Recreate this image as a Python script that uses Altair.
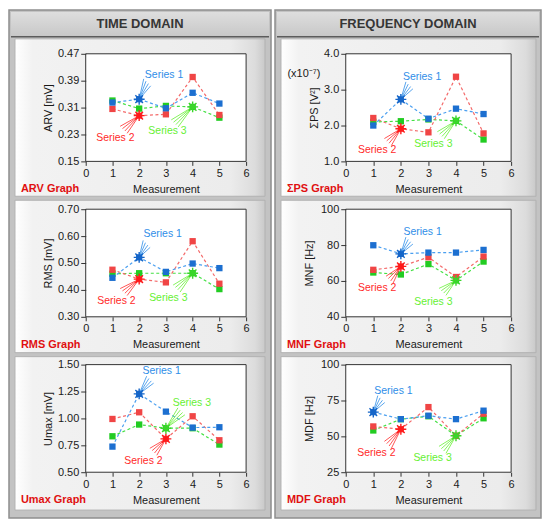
import altair as alt
import pandas as pd

# ---------------- data ----------------
MEASUREMENTS = [1, 2, 3, 4, 5]
SERIES = ["Series 1", "Series 2", "Series 3"]

ARV_S1 = [0.325, 0.335, 0.308, 0.354, 0.322]
ARV_S2 = [0.306, 0.286, 0.290, 0.401, 0.288]
ARV_S3 = [0.331, 0.307, 0.315, 0.312, 0.280]

SPS_S1 = [2.00, 2.73, 2.19, 2.47, 2.32]
SPS_S2 = [2.21, 1.91, 1.81, 3.36, 1.78]
SPS_S3 = [2.10, 2.12, 2.17, 2.13, 1.61]

RMS_S1 = [0.445, 0.521, 0.467, 0.498, 0.481]
RMS_S2 = [0.475, 0.440, 0.428, 0.581, 0.423]
RMS_S3 = [0.460, 0.462, 0.462, 0.462, 0.403]

MNF_S1 = [79.9, 75.1, 75.8, 75.8, 77.3]
MNF_S2 = [66.2, 68.1, 73.2, 62.2, 73.6]
MNF_S3 = [64.7, 63.6, 69.4, 60.3, 70.8]

UMAX_S1 = [0.738, 1.228, 1.063, 0.915, 0.918]
UMAX_S2 = [0.995, 1.057, 0.810, 1.020, 0.797]
UMAX_S3 = [0.834, 0.943, 0.909, 0.909, 0.757]

MDF_S1 = [66.9, 62.0, 64.4, 62.0, 67.9]
MDF_S2 = [56.9, 55.0, 70.4, 50.4, 65.8]
MDF_S3 = [54.1, 62.0, 64.0, 50.4, 62.6]

X_TICKS = [0, 1, 2, 3, 4, 5, 6]
ARV_TICKS = [0.15, 0.23, 0.31, 0.39, 0.47]
SPS_TICKS = [1.0, 2.0, 3.0, 4.0]
RMS_TICKS = [0.30, 0.40, 0.50, 0.60, 0.70]
MNF_TICKS = [40, 60, 80, 100]
UMAX_TICKS = [0.50, 0.75, 1.00, 1.25, 1.50]
MDF_TICKS = [25, 50, 75, 100]

# cursor measurement index per series (Series 1, 2, 3)
ARV_CURSOR = [2, 2, 4]
SPS_CURSOR = [2, 2, 4]
RMS_CURSOR = [2, 2, 4]
MNF_CURSOR = [2, 2, 4]
UMAX_CURSOR = [2, 3, 3]
MDF_CURSOR = [1, 2, 4]

# annotation label anchors (data units) and arrow start points (data units)
ARV_LABEL = [(2.93, 0.408), (1.11, 0.219), (3.06, 0.241)]
ARV_ARROW = [(2.30, 0.385), (1.42, 0.244), (3.33, 0.263)]
SPS_LABEL = [(2.77, 3.35), (1.14, 1.33), (3.18, 1.49)]
SPS_ARROW = [(2.31, 3.12), (1.53, 1.54), (3.45, 1.73)]
RMS_LABEL = [(2.88, 0.608), (1.15, 0.359), (3.09, 0.371)]
RMS_ARROW = [(2.28, 0.571), (1.42, 0.392), (3.40, 0.405)]
MNF_LABEL = [(2.79, 87.1), (1.14, 56.2), (3.18, 48.4)]
MNF_ARROW = [(2.31, 82.5), (1.59, 60.7), (3.51, 53.9)]
UMAX_LABEL = [(2.84, 1.44), (2.16, 0.60), (3.97, 1.14)]
UMAX_ARROW = [(2.41, 1.36), (2.53, 0.69), (3.58, 1.066)]
MDF_LABEL = [(1.73, 81.4), (1.11, 38.7), (3.15, 34.8)]
MDF_ARROW = [(1.29, 76.0), (1.53, 44.1), (3.51, 40.6)]

# ---------------- styles ----------------
FONT = "Liberation Sans"
LINE_COLORS = ["#4a9ff0", "#f46a6a", "#44e044"]
MARK_COLORS = ["#1c6fd0", "#f04545", "#22cc22"]
LABEL_COLORS = ["#2f8ee8", "#ff2a2a", "#66f033"]
CURSOR_COLORS = ["#1565c8", "#ff1a1a", "#3ad62a"]
GRAPH_RED = "#e01010"

W = {0: 161, 1: 166}
H = 108
ONE = pd.DataFrame({"k": [0]})

COL_FRAME_X = {0: (-77, 186), 1: (-71, 196)}
SUB_X = {0: (-71, 180), 1: (-65, 191)}
SUB_Y = {0: (-15, 143), 1: (-9, 144), 2: (-8, 146)}
GRAPH_X = {0: -65, 1: -59}
HEADERS = {0: "TIME DOMAIN", 1: "FREQUENCY DOMAIN"}

ASTERISK = "M-1,0L1,0M0,-1L0,1M-0.7,-0.7L0.7,0.7M-0.7,0.7L0.7,-0.7"

AXIS_STYLE = dict(labelFont=FONT, titleFont=FONT, labelFontSize=11, titleFontSize=11,
                  titleFontWeight="normal", labelColor="#1a1a1a", titleColor="#1a1a1a",
                  tickColor="#333333", domain=False, grid=False, zindex=2,
                  labelFlush=False, labelOverlap=False)


def rect(x, x2, y, y2, **mark):
    return alt.Chart(ONE).mark_rect(**mark).encode(
        x=alt.value(x), x2=alt.value(x2), y=alt.value(y), y2=alt.value(y2)
    )


def text(s, x, y, **mark):
    return alt.Chart(ONE).mark_text(text=s, font=FONT, **mark).encode(
        x=alt.value(x), y=alt.value(y)
    )


def panel(row, col, ytitle, graph, series, ticks, fmt, cursor, labels, arrows, ytx, extra=None):
    w = W[col]
    layers = []
    if row == 0:
        fx0, fx1 = COL_FRAME_X[col]
        layers.append(rect(fx0, fx1, -44, 466, fill="#c3c3c3", stroke="#8e8e8e", strokeWidth=1.5))
        layers.append(rect(fx0 + 2, fx1 - 2, -42, -18,
                           fill=alt.Gradient(gradient="linear", x1=0, x2=0, y1=0, y2=1,
                                             stops=[alt.GradientStop(color="#dedede", offset=0),
                                                    alt.GradientStop(color="#c8c8c8", offset=1)])))
        layers.append(alt.Chart(ONE).mark_rule(color="#5c5c5c", strokeWidth=1.5).encode(
            x=alt.value(fx0 + 2), x2=alt.value(fx1 - 2), y=alt.value(-17)))
        layers.append(text(HEADERS[col], (fx0 + fx1) / 2, -30, fontSize=13, fontWeight="bold",
                           color="#363636", align="center", baseline="middle"))
    sx0, sx1 = SUB_X[col]
    sy0, sy1 = SUB_Y[row]
    layers.append(rect(sx0, sx1, sy0, sy1, stroke="#b2b2b2", strokeWidth=1,
                       fill=alt.Gradient(gradient="linear", x1=0, x2=1, y1=0, y2=0,
                                         stops=[alt.GradientStop(color="#ffffff", offset=0),
                                                alt.GradientStop(color="#f2f2f2", offset=0.07),
                                                alt.GradientStop(color="#ececec", offset=0.86),
                                                alt.GradientStop(color="#dcdcdc", offset=0.96),
                                                alt.GradientStop(color="#c9c9c9", offset=1)])))
    layers.append(rect(0, w, 0, H, fill="white", stroke="#333333", strokeWidth=1))

    rows = []
    for si in [2, 1, 0]:
        for m, v in zip(MEASUREMENTS, series[si]):
            rows.append({"meas": m, "value": v, "series": SERIES[si]})
    df = pd.DataFrame(rows)

    crow = []
    for si in range(3):
        cx = cursor[si]
        crow.append({"series": SERIES[si], "cx": cx, "cy": series[si][MEASUREMENTS.index(cx)],
                     "lx": labels[si][0], "ly": labels[si][1],
                     "ax": arrows[si][0], "ay": arrows[si][1]})
    cdf = pd.DataFrame(crow)

    lo, hi = ticks[0], ticks[-1]
    xs = alt.Scale(domain=[0, 6], nice=False, zero=False)
    ys = alt.Scale(domain=[lo, hi], nice=False, zero=False)
    xaxis = alt.Axis(values=X_TICKS, format="d", title="Measurement", tickSize=4, labelPadding=2,
                     titleX=w / 2, titleY=28, titleAlign="center", titleBaseline="middle",
                     **AXIS_STYLE)
    yaxis = alt.Axis(values=ticks, format=fmt, title=ytitle, tickSize=5, labelPadding=2,
                     titleX=ytx, titleY=H / 2, titleAlign="center", titleBaseline="middle",
                     titleAngle=270, **AXIS_STYLE)

    def X(f):
        return alt.X(f, scale=xs, axis=xaxis, title="Measurement")

    def Y(f):
        return alt.Y(f, scale=ys, axis=yaxis, title=ytitle)

    def cs(rng):
        return alt.Scale(domain=SERIES, range=rng)

    lines = alt.Chart(df).mark_line(strokeDash=[3, 2.5], strokeWidth=1.2).encode(
        x=X("meas:Q"), y=Y("value:Q"),
        color=alt.Color("series:N", scale=cs(LINE_COLORS), legend=None),
    )
    pts = alt.Chart(df).mark_square(size=40, opacity=1).encode(
        x=X("meas:Q"), y=Y("value:Q"),
        color=alt.Color("series:N", scale=cs(MARK_COLORS), legend=None),
    )
    layers += [lines, pts]
    for d in [-3.5, -1.2, 1.2, 3.5]:
        layers.append(alt.Chart(cdf).mark_rule(strokeWidth=0.8, xOffset=d, yOffset=d).encode(
            x=X("ax:Q"), y=Y("ay:Q"), x2="cx:Q", y2="cy:Q",
            color=alt.Color("series:N", scale=cs(LABEL_COLORS), legend=None)))
    layers.append(alt.Chart(cdf).mark_point(shape=ASTERISK, filled=False, size=120,
                                            strokeWidth=1.4, opacity=1).encode(
        x=X("cx:Q"), y=Y("cy:Q"),
        color=alt.Color("series:N", scale=cs(CURSOR_COLORS), legend=None)))
    layers.append(alt.Chart(cdf).mark_square(size=22, opacity=1).encode(
        x=X("cx:Q"), y=Y("cy:Q"),
        color=alt.Color("series:N", scale=cs(CURSOR_COLORS), legend=None)))
    layers.append(alt.Chart(cdf).mark_text(font=FONT, fontSize=10.5, align="center",
                                           baseline="middle").encode(
        x=X("lx:Q"), y=Y("ly:Q"),
        text="series:N",
        color=alt.Color("series:N", scale=cs(LABEL_COLORS), legend=None)))
    layers.append(text(graph, GRAPH_X[col], H + 28, fontSize=11, fontWeight="bold",
                       color=GRAPH_RED, align="left", baseline="middle"))
    if extra:
        layers.append(text(extra, -42, 20, fontSize=11, color="#1a1a1a",
                           align="center", baseline="middle"))

    return alt.layer(*layers).resolve_scale(color="independent").properties(width=w, height=H)


charts = [
    panel(0, 0, "ARV [mV]", "ARV Graph", [ARV_S1, ARV_S2, ARV_S3], ARV_TICKS, ".2f",
          ARV_CURSOR, ARV_LABEL, ARV_ARROW, -37),
    panel(0, 1, "ΣPS [V²]", "ΣPS Graph", [SPS_S1, SPS_S2, SPS_S3], SPS_TICKS, ".1f",
          SPS_CURSOR, SPS_LABEL, SPS_ARROW, -31, extra="(x10⁻⁷)"),
    panel(1, 0, "RMS [mV]", "RMS Graph", [RMS_S1, RMS_S2, RMS_S3], RMS_TICKS, ".2f",
          RMS_CURSOR, RMS_LABEL, RMS_ARROW, -37),
    panel(1, 1, "MNF [Hz]", "MNF Graph", [MNF_S1, MNF_S2, MNF_S3], MNF_TICKS, "d",
          MNF_CURSOR, MNF_LABEL, MNF_ARROW, -36),
    panel(2, 0, "Umax [mV]", "Umax Graph", [UMAX_S1, UMAX_S2, UMAX_S3], UMAX_TICKS, ".2f",
          UMAX_CURSOR, UMAX_LABEL, UMAX_ARROW, -37),
    panel(2, 1, "MDF [Hz]", "MDF Graph", [MDF_S1, MDF_S2, MDF_S3], MDF_TICKS, "d",
          MDF_CURSOR, MDF_LABEL, MDF_ARROW, -36),
]

chart = alt.concat(*charts, columns=2, spacing={"row": 48, "column": 100}, bounds="flush").properties(
    padding=0, background="white"
).configure_view(stroke=None)

chart.save("out.html", embed_options={"renderer": "svg", "actions": False})
